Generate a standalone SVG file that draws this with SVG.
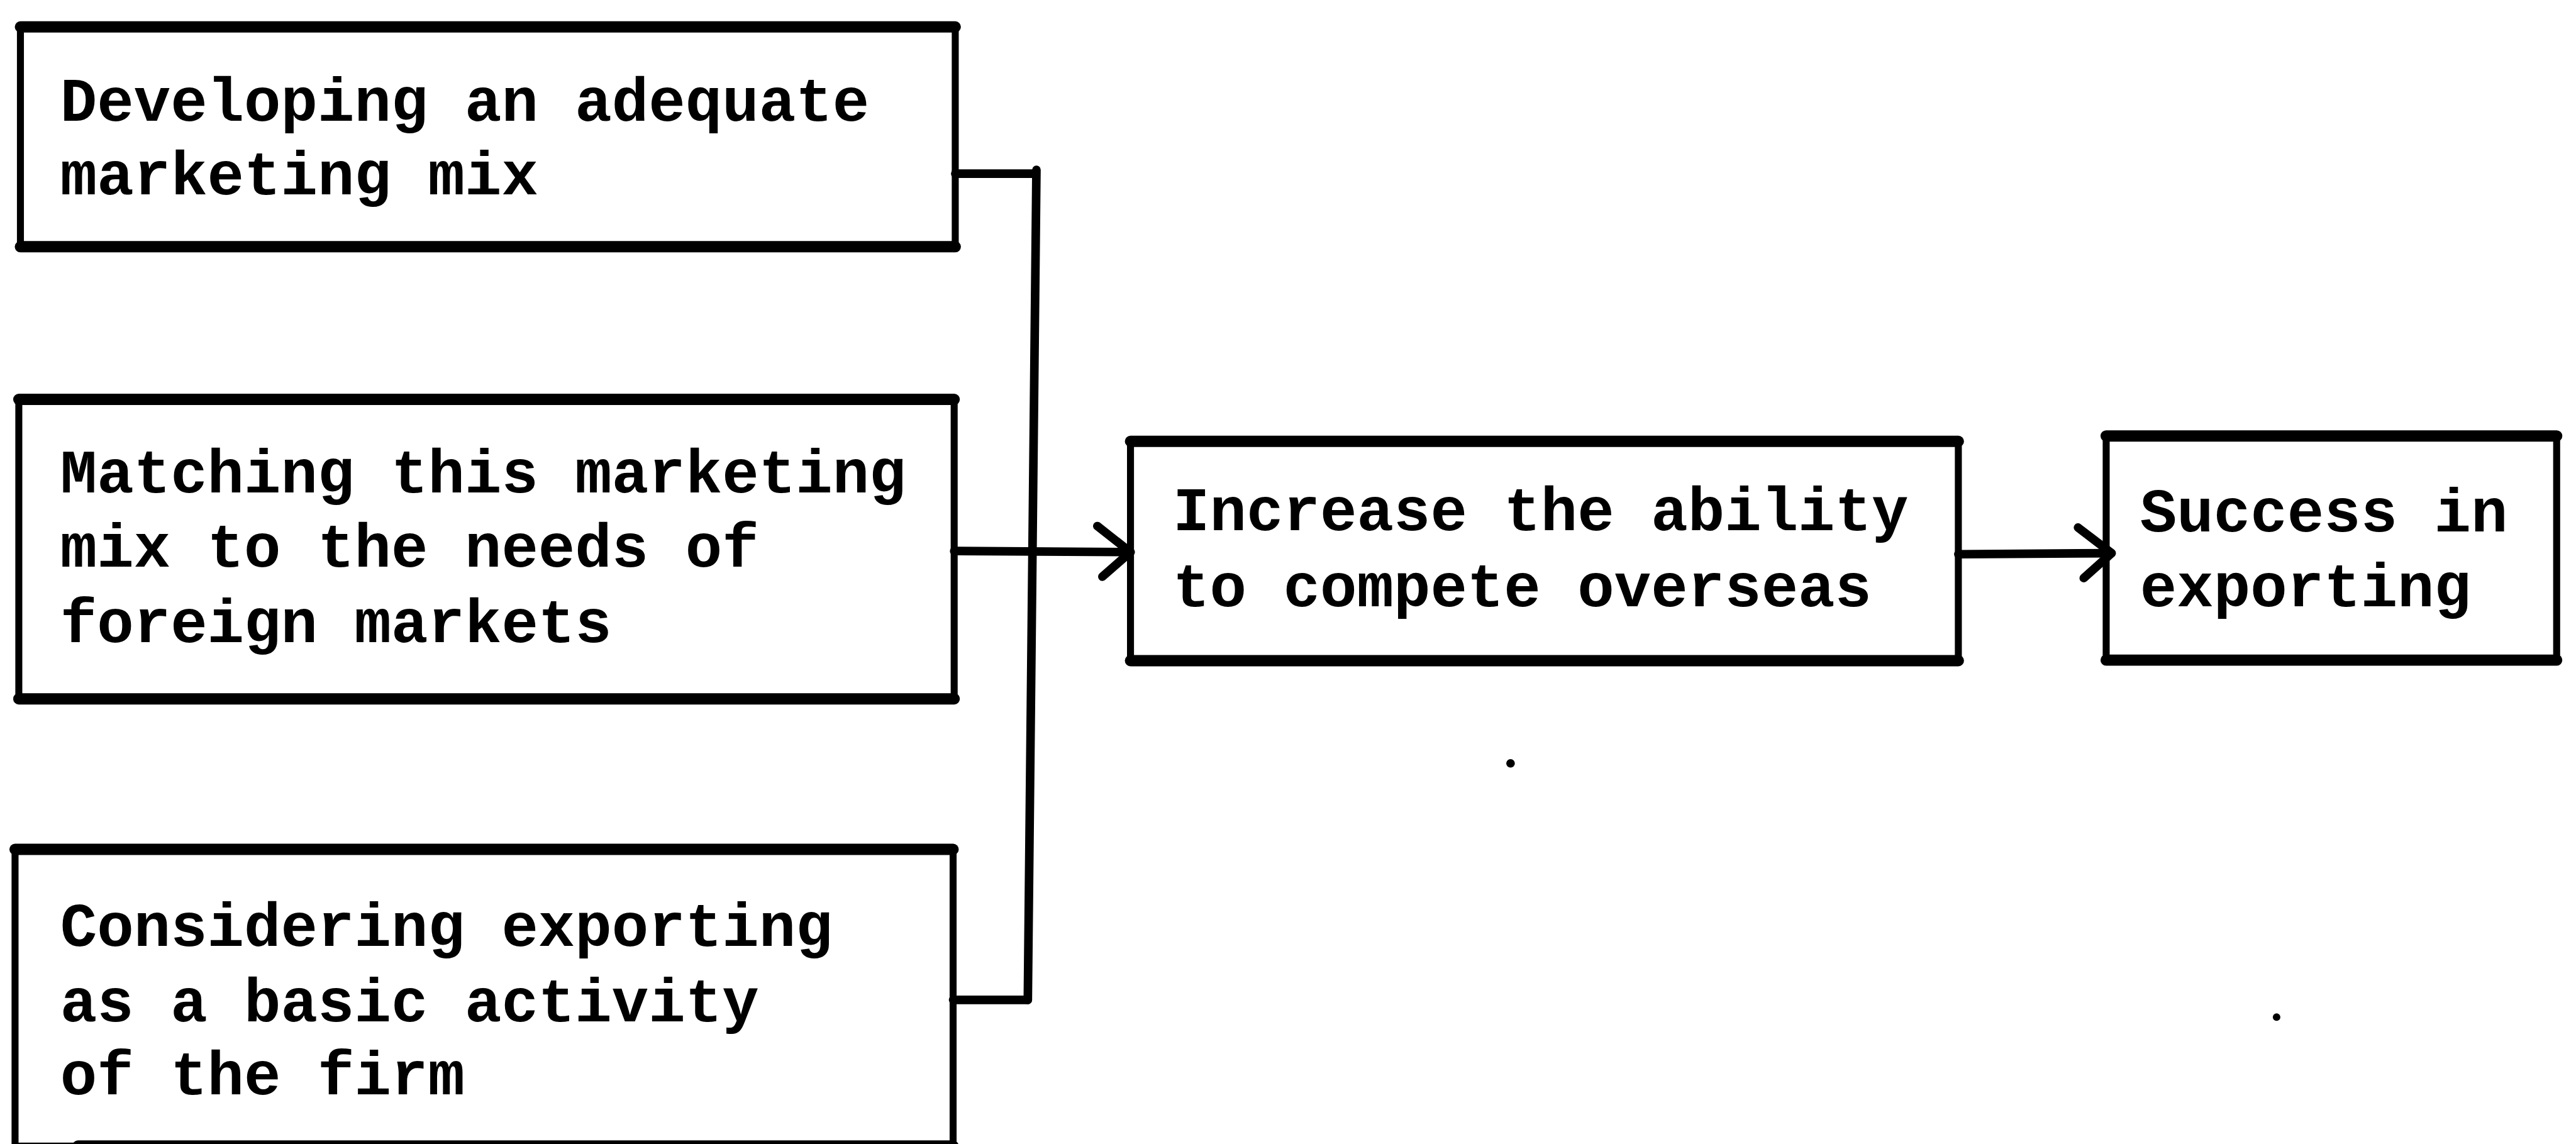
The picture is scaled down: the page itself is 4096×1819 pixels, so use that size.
<svg xmlns="http://www.w3.org/2000/svg" width="4096" height="1819" viewBox="0 0 4096 1819">
  <style>
    .side { fill: none; stroke: #000; stroke-width: 13; }
    .edge { stroke: #000; stroke-width: 21; stroke-linecap: round; }
    .label { font-family: "Liberation Mono", "DejaVu Sans Mono", monospace; font-weight: bold; font-size: 114px; fill: #000; }
    .wire { fill: none; stroke: #000; stroke-width: 16; stroke-linecap: round; stroke-linejoin: round; }
    .speck { fill: #000; }
  </style>
  <defs>
    <marker id="chevron" markerUnits="userSpaceOnUse" viewBox="-80 -60 90 120" refX="0" refY="0" markerWidth="90" markerHeight="120" orient="auto">
      <path d="M -62 -48 L 0 0 L -52 46" fill="none" stroke="#000" stroke-width="16" stroke-linecap="round" stroke-linejoin="round"/>
    </marker>
  </defs>
  <rect width="4096" height="1819" fill="#fff"/>
  <g transform="scale(0.85476)">
    <g id="node-marketing-mix">
      <rect class="side" x="38" y="50" width="1739" height="409"/>
      <line class="edge" x1="38" y1="50" x2="1777" y2="50"/>
      <line class="edge" x1="38" y1="459" x2="1777" y2="459"/>
      <text class="label" x="112" y="225">Developing an adequate</text>
      <text class="label" x="112" y="361">marketing mix</text>
    </g>
    <g id="node-matching">
      <rect class="side" x="35" y="743" width="1740" height="557"/>
      <line class="edge" x1="35" y1="743" x2="1775" y2="743"/>
      <line class="edge" x1="35" y1="1300" x2="1775" y2="1300"/>
      <text class="label" x="112" y="916">Matching this marketing</text>
      <text class="label" x="112" y="1054">mix to the needs of</text>
      <text class="label" x="112" y="1194">foreign markets</text>
    </g>
    <g id="node-considering">
      <rect class="side" x="28" y="1580" width="1745" height="552"/>
      <line class="edge" x1="28" y1="1580" x2="1773" y2="1580"/>
      <line class="edge" x1="145" y1="2132" x2="1773" y2="2132"/>
      <text class="label" x="112" y="1760">Considering exporting</text>
      <text class="label" x="112" y="1900">as a basic activity</text>
      <text class="label" x="112" y="2036">of the firm</text>
    </g>
    <g id="node-compete">
      <rect class="side" x="2103" y="821" width="1540" height="408"/>
      <line class="edge" x1="2103" y1="821" x2="3643" y2="821"/>
      <line class="edge" x1="2103" y1="1229" x2="3643" y2="1229"/>
      <text class="label" x="2182" y="986">Increase the ability</text>
      <text class="label" x="2182" y="1128">to compete overseas</text>
    </g>
    <g id="node-success">
      <rect class="side" x="3918" y="811" width="838" height="417"/>
      <line class="edge" x1="3918" y1="811" x2="4756" y2="811"/>
      <line class="edge" x1="3918" y1="1228" x2="4756" y2="1228"/>
      <text class="label" x="3981" y="989">Success in</text>
      <text class="label" x="3981" y="1128">exporting</text>
    </g>
    <g id="connectors">
      <path class="wire" d="M 1777 323 L 1926 323"/>
      <path class="wire" d="M 1928 316 L 1912 1860"/>
      <path class="wire" d="M 1773 1860 L 1912 1860"/>
      <path class="wire" d="M 1775 1025 L 2103 1027" marker-end="url(#chevron)"/>
      <path class="wire" d="M 3643 1031 L 3928 1029" marker-end="url(#chevron)"/>
    </g>
    <circle class="speck" cx="2810" cy="1420" r="8"/>
    <circle class="speck" cx="4235" cy="1892" r="7"/>
  </g>
</svg>
